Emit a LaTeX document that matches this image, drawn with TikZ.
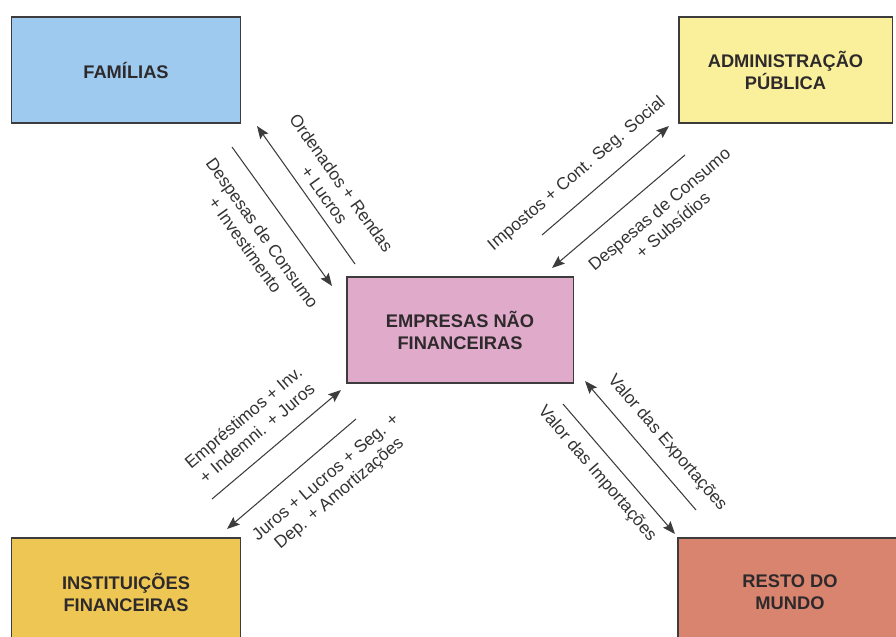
\documentclass[tikz,border=0pt]{standalone}
\usepackage{fontspec}
\setmainfont{Liberation Sans}
\usetikzlibrary{arrows.meta}
\definecolor{famblue}{HTML}{9DCAEE}
\definecolor{admyellow}{HTML}{FAF09C}
\definecolor{emppink}{HTML}{E0AACB}
\definecolor{instgold}{HTML}{EDC653}
\definecolor{restored}{HTML}{D9846F}
\definecolor{linegray}{HTML}{3C3C3C}
\definecolor{boxtext}{HTML}{2E2A2C}
\definecolor{labtext}{HTML}{333333}

\begin{document}
\begin{tikzpicture}[x=0.025cm, y=-0.025cm,
    caixa/.style={draw=linegray, line width=0.75pt, minimum height=2.65cm, inner sep=0pt,
                  align=center, text=boxtext, font=\bfseries\fontsize{13}{15.6}\selectfont},
    fluxo/.style={linegray, line width=0.75pt, -{Stealth[length=9pt,width=7pt,inset=1.5pt]}},
    rotulo/.style={align=center, inner sep=0pt, text=labtext, font=\fontsize{12.3}{14.8}\selectfont}]
            \clip (0,0) rectangle (896,637);

            % sectores
            \node[caixa, fill=famblue, minimum width=5.7cm] (fam) at (126,70) {FAMÍLIAS};
            \node[caixa, fill=admyellow, minimum width=5.325cm] (adm) at (785.5,70) {ADMINISTRAÇÃO\\PÚBLICA};
            \node[caixa, fill=emppink, minimum width=5.65cm] (emp) at (460,330) {EMPRESAS NÃO\\FINANCEIRAS};
            \node[caixa, fill=instgold, minimum width=5.7cm, minimum height=2.7cm] (inst) at (126,592) {INSTITUIÇÕES\\FINANCEIRAS};
            \node[caixa, fill=restored, minimum width=5.6cm, minimum height=2.7cm] (resto) at (790,592) {RESTO DO\\MUNDO};

            % pontas dos fluxos
            \coordinate (ordA) at (355,264);
            \coordinate (ordB) at (257,126);
            \coordinate (despA) at (232,147);
            \coordinate (despB) at (332,286);
            \coordinate (impA) at (542,235);
            \coordinate (impB) at (669,126);
            \coordinate (subA) at (685,155);
            \coordinate (subB) at (552,268);
            \coordinate (empA) at (212,499);
            \coordinate (empB) at (341,390);
            \coordinate (jurA) at (356,419);
            \coordinate (jurB) at (227,529);
            \coordinate (expA) at (696,510);
            \coordinate (expB) at (585,381);
            \coordinate (mpA) at (563,404);
            \coordinate (mpB) at (675,534);

            \draw[fluxo] (ordA) -- (ordB);
            \draw[fluxo] (despA) -- (despB);
            \draw[fluxo] (impA) -- (impB);
            \draw[fluxo] (subA) -- (subB);
            \draw[fluxo] (empA) -- (empB);
            \draw[fluxo] (jurA) -- (jurB);
            \draw[fluxo] (expA) -- (expB);
            \draw[fluxo] (mpA) -- (mpB);

            % rotulos
            \node[rotulo, rotate=-54.5] (lord) at (333,189) {Ordenados + Rendas\\+ Lucros};
            \node[rotulo, rotate=-54.5] (ldesp) at (254,239) {Despesas de Consumo\\+ Investimento};
            \node[rotulo, rotate=40.5] (limp) at (577,174) {Impostos + Cont. Seg. Social};
            \node[rotulo, rotate=40.3] (lsub) at (666,217) {Despesas de Consumo\\+ Subsídios};
            \node[rotulo, rotate=40.3] (lemp) at (250,425) {Empréstimos + Inv.\\+ Indemni. + Juros};
            \node[rotulo, rotate=40.3] (ljur) at (333,486) {Juros + Lucros + Seg. +\\Dep. + Amortizações};
            \node[rotulo, rotate=-49.3] (lexp) at (667,443) {Valor das Exportações};
            \node[rotulo, rotate=-49.3] (limp2) at (597,474) {Valor das Importações};
        \end{tikzpicture}
\end{document}
